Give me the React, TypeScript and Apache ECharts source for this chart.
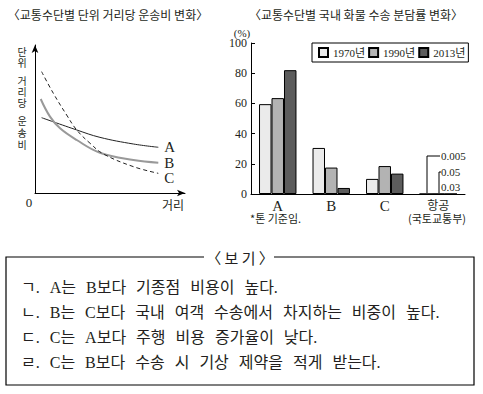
import React, { useEffect, useRef } from "react";
import * as echarts from "echarts";

// ---- data ----
const categories = ["A", "B", "C", "항공"];
const years = ["1970년", "1990년", "2013년"];
const share1970 = [59.5, 30.5, 10, 0.005];
const share1990 = [63.5, 17.5, 18.5, 0.05];
const share2013 = [82, 4, 13.5, 0.03];
const airLabels = ["0.005", "0.05", "0.03"];

// unit cost curves (distance, cost) in arbitrary units
const curveA = [[0.44, 5.09], [2.78, 4.26], [4.33, 3.76], [6.56, 3.31], [8.22, 3.09]];
const curveB = [[0.38, 6.35], [1.0, 5.16], [1.67, 4.37], [2.78, 3.58], [4.33, 2.72], [6.56, 2.23], [8.22, 2.05]];
const curveC = [[0.44, 8.2], [1.22, 6.74], [2.11, 5.27], [2.78, 4.26], [3.67, 3.36], [4.56, 2.64], [6.56, 1.78], [8.22, 1.33]];

const yAxisName = ["단", "위", "거", "리", "당", "운", "송", "비"];

const bogi = [
  "ㄱ. A는 B보다 기종점 비용이 높다.",
  "ㄴ. B는 C보다 국내 여객 수송에서 차지하는 비중이 높다.",
  "ㄷ. C는 A보다 주행 비용 증가율이 낮다.",
  "ㄹ. C는 B보다 수송 시 기상 제약을 적게 받는다.",
];

const FONT = "'Liberation Serif', 'Noto Sans CJK KR', serif";
const KFONT = "'Noto Sans CJK KR', sans-serif";
const INK = "#231f20";

export default function App() {
  const ref = useRef<HTMLDivElement>(null);
  useEffect(() => {
    const chart = echarts.init(ref.current!, null, { renderer: "svg" });
    const txt = (text: string, x: number, y: number, size: number, align = "left", font = FONT, extra: any = {}) => ({
      type: "text",
      style: { text, x, y, fill: INK, fontSize: size, fontFamily: font, align, verticalAlign: "middle", ...extra },
    });
    const graphics: any[] = [
      txt("〈교통수단별 단위 거리당 운송비 변화〉", 108, 14, 12, "center", KFONT),
      txt("〈교통수단별 국내 화물 수송 분담률 변화〉", 356, 14, 12, "center", KFONT),
      txt("0", 29, 202, 13, "center"),
      txt("거리", 173, 204, 12, "center", KFONT),
      txt("(%)", 242, 33, 11, "center"),
      txt("*톤 기준임.", 250, 218, 11, "left", KFONT),
      txt("(국토교통부)", 437, 218, 11, "center", KFONT),
      { type: "polyline", shape: { points: [[427, 193], [427, 156], [440, 156]] }, style: { stroke: "#000", lineWidth: 1, fill: "none" } },
      { type: "polyline", shape: { points: [[439, 193], [439, 172], [441, 172]] }, style: { stroke: "#000", lineWidth: 1, fill: "none" } },
      txt(airLabels[0], 441, 156, 11),
      txt(airLabels[1], 441, 172, 11),
      txt(airLabels[2], 441, 187, 11),
      { type: "rect", shape: { x: 6, y: 257, width: 468, height: 128 }, style: { fill: "none", stroke: "#000", lineWidth: 1.2 } },
      { type: "rect", shape: { x: 204, y: 249, width: 70, height: 16 }, style: { fill: "#fff" } },
      txt("〈 보 기 〉", 240, 257, 15, "center", KFONT),
    ];
    const nameY = [51, 62, 80, 91, 102, 120, 132, 144];
    yAxisName.forEach((c, i) => graphics.push(txt(c, 22, nameY[i], 10, "center", KFONT, { lineHeight: 10 })));

    // bogi lines, laid out word by word
    const ctx = document.createElement("canvas").getContext("2d")!;
    const BSIZE = 16;
    ctx.font = `${BSIZE}px ${FONT}`;
    bogi.forEach((s, i) => {
      let x = 21;
      s.split(" ").forEach((w) => {
        graphics.push(txt(w, x, 287 + i * 25.3, BSIZE, "left", FONT));
        x += ctx.measureText(w).width + 10;
      });
    });

    const lineBase = { type: "line", xAxisIndex: 0, yAxisIndex: 0, smooth: 0.4, showSymbol: false, symbol: "none" };
    const endLbl = (t: string, dy: number) => ({
      show: true, formatter: t, distance: 6, offset: [0, dy], color: INK, fontSize: 15, fontFamily: FONT,
    });
    const barStyle = (c: string) => ({ color: c, borderColor: "#000", borderWidth: 1 });

    chart.setOption({
      animation: false,
      textStyle: { fontFamily: FONT },
      grid: [
        { left: 35, top: 45, width: 150, height: 148 },
        { left: 251, top: 43, width: 214, height: 151 },
      ],
      xAxis: [
        {
          type: "value", gridIndex: 0, min: 0, max: 10,
          axisLine: { lineStyle: { color: "#000", width: 1 }, symbol: ["none", "arrow"], symbolSize: [5, 8] },
          axisTick: { show: false }, axisLabel: { show: false }, splitLine: { show: false },
        },
        {
          type: "category", gridIndex: 1, data: categories,
          axisLine: { lineStyle: { color: "#000", width: 1 } },
          axisTick: { inside: true, length: 4, lineStyle: { color: "#000" } },
          axisLabel: {
            margin: 4, color: INK, interval: 0,
            formatter: (v: string) => (v.length > 1 ? `{k|${v}}` : `{l|${v}}`),
            rich: {
              l: { fontSize: 15, fontFamily: FONT, color: INK },
              k: { fontSize: 12, fontFamily: KFONT, color: INK },
            },
          },
        },
      ],
      yAxis: [
        {
          type: "value", gridIndex: 0, min: 0, max: 10,
          axisLine: { show: true, lineStyle: { color: "#000", width: 1 }, symbol: ["none", "arrow"], symbolSize: [5, 8] },
          axisTick: { show: false }, axisLabel: { show: false }, splitLine: { show: false },
        },
        {
          type: "value", gridIndex: 1, min: 0, max: 100, interval: 20,
          axisLine: { show: true, lineStyle: { color: "#000", width: 1 } },
          axisTick: { show: true, inside: true, length: 4, lineStyle: { color: "#000" } },
          axisLabel: { margin: 4, fontSize: 12, fontFamily: FONT, color: INK },
          splitLine: { show: false },
        },
      ],
      legend: {
        data: years, left: 312, top: 43, orient: "horizontal",
        itemWidth: 9, itemHeight: 9, itemGap: 3, padding: [4, 3, 4, 6],
        borderColor: "#000", borderWidth: 1, icon: "rect",
        textStyle: { fontSize: 11, fontFamily: FONT, color: INK },
      },
      series: [
        { ...lineBase, name: "A", data: curveA, lineStyle: { color: "#222", width: 1 }, endLabel: endLbl("A", 0) },
        { ...lineBase, name: "B", data: curveB, lineStyle: { color: "#999", width: 2 }, endLabel: endLbl("B", 0) },
        { ...lineBase, name: "C", data: curveC, lineStyle: { color: "#222", width: 1, type: [4, 3] }, endLabel: endLbl("C", 5) },
        { type: "bar", name: years[0], xAxisIndex: 1, yAxisIndex: 1, data: share1970, barGap: 0, barCategoryGap: "30%", itemStyle: barStyle("#ebebeb") },
        { type: "bar", name: years[1], xAxisIndex: 1, yAxisIndex: 1, data: share1990, barGap: 0, barCategoryGap: "30%", itemStyle: barStyle("#b3b3b3") },
        { type: "bar", name: years[2], xAxisIndex: 1, yAxisIndex: 1, data: share2013, barGap: 0, barCategoryGap: "30%", itemStyle: barStyle("#5c5c5c") },
      ],
      graphic: graphics,
    });
    return () => chart.dispose();
  }, []);
  return <div ref={ref} style={{ position: "fixed", left: 0, top: 0, width: 483, height: 394, background: "#fff" }} />;
}
